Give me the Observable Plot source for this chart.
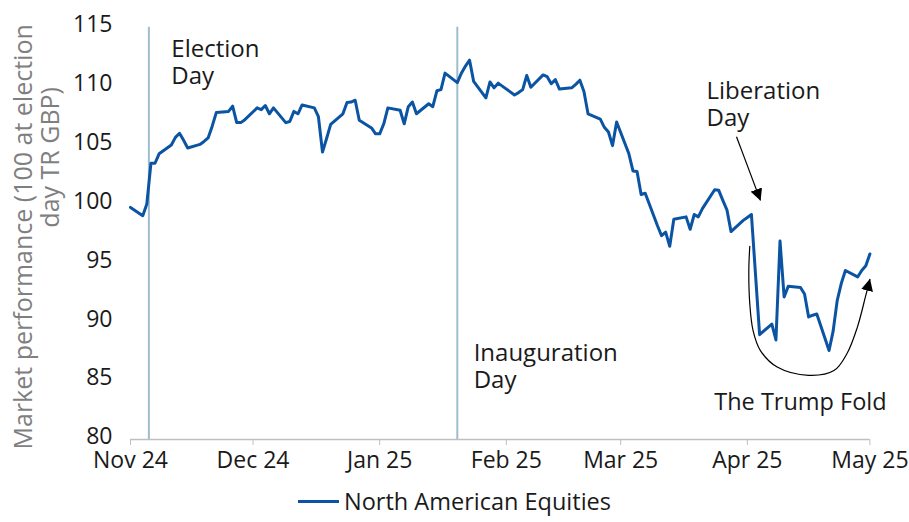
<!DOCTYPE html>
<html>
<head>
<meta charset="utf-8">
<script src="https://cdn.jsdelivr.net/npm/d3@7"></script>
<script src="https://cdn.jsdelivr.net/npm/@observablehq/plot@0.6"></script>
<style>
  html, body { margin: 0; padding: 0; background: #ffffff; }
  #chart { width: 909px; height: 522px; font-family: "Open Sans", sans-serif; }
  .legend { display: flex; justify-content: center; align-items: center; height: 42px; font-size: 23.5px; color: #1a1a1a; font-family: "Open Sans", sans-serif; }
  .legend .sw { width: 41px; height: 3px; background: #0b54a3; margin-right: 5px; }
</style>
</head>
<body>
<div id="chart"></div>
<script>
// ---- Series: North American Equities (100 at election day, TR GBP) ----
const seriesName = "North American Equities";
const dates = [
  "2024-11-01","2024-11-04","2024-11-05","2024-11-06","2024-11-07","2024-11-08",
  "2024-11-11","2024-11-12","2024-11-13","2024-11-14","2024-11-15",
  "2024-11-18","2024-11-19","2024-11-20","2024-11-21","2024-11-22",
  "2024-11-25","2024-11-26","2024-11-27","2024-11-28","2024-11-29",
  "2024-12-02","2024-12-03","2024-12-04","2024-12-05","2024-12-06",
  "2024-12-09","2024-12-10","2024-12-11","2024-12-12","2024-12-13",
  "2024-12-16","2024-12-17","2024-12-18","2024-12-19","2024-12-20",
  "2024-12-23","2024-12-24","2024-12-25","2024-12-26","2024-12-27",
  "2024-12-30","2024-12-31","2025-01-01","2025-01-02","2025-01-03",
  "2025-01-06","2025-01-07","2025-01-08","2025-01-09","2025-01-10",
  "2025-01-13","2025-01-14","2025-01-15","2025-01-16","2025-01-17",
  "2025-01-20","2025-01-21","2025-01-22","2025-01-23","2025-01-24",
  "2025-01-27","2025-01-28","2025-01-29","2025-01-30","2025-01-31",
  "2025-02-03","2025-02-04","2025-02-05","2025-02-06","2025-02-07",
  "2025-02-10","2025-02-11","2025-02-12","2025-02-13","2025-02-14",
  "2025-02-17","2025-02-18","2025-02-19","2025-02-20","2025-02-21",
  "2025-02-24","2025-02-25","2025-02-26","2025-02-27","2025-02-28",
  "2025-03-03","2025-03-04","2025-03-05","2025-03-06","2025-03-07",
  "2025-03-10","2025-03-11","2025-03-12","2025-03-13","2025-03-14",
  "2025-03-17","2025-03-18","2025-03-19","2025-03-20","2025-03-21",
  "2025-03-24","2025-03-25","2025-03-26","2025-03-27","2025-03-28",
  "2025-03-31","2025-04-01","2025-04-02","2025-04-03","2025-04-04",
  "2025-04-07","2025-04-08","2025-04-09","2025-04-10","2025-04-11",
  "2025-04-14","2025-04-15","2025-04-16","2025-04-17","2025-04-18",
  "2025-04-21","2025-04-22","2025-04-23","2025-04-24","2025-04-25",
  "2025-04-28","2025-04-29","2025-04-30","2025-05-01"
];
const values = [
  99.7, 99.0, 100.0, 103.45, 103.45, 104.25,
  105.0, 105.65, 106.0, 105.4, 104.75,
  105.05, 105.3, 105.6, 106.6, 107.75,
  107.85, 108.3, 106.9, 106.9, 107.15,
  108.15, 108.0, 108.35, 107.65, 108.15,
  106.9, 107.0, 107.85, 107.65, 108.4,
  108.15, 107.4, 104.4, 105.55, 106.75,
  107.65, 108.6, 108.65, 108.8, 107.1,
  106.45, 105.95, 105.95, 106.8, 108.15,
  107.95, 106.8, 108.25, 108.65, 107.65,
  108.5, 108.25, 109.6, 109.7, 111.1,
  110.3, 111.1, 111.7, 112.2, 110.4,
  109.0, 110.35, 109.85, 110.25, 110.0,
  109.25, 109.45, 109.7, 110.9, 109.9,
  110.95, 110.8, 110.2, 110.55, 109.75,
  109.85, 110.15, 110.5, 109.55, 107.65,
  107.2, 106.5, 106.1, 104.95, 106.95,
  104.25, 102.8, 102.75, 100.8, 100.9,
  98.15, 97.3, 97.6, 96.4, 98.7,
  98.9, 97.85, 99.1, 98.9, 99.6,
  101.2, 101.15, 100.3, 99.5, 97.65,
  98.6, 98.85, 99.1, 94.0, 88.9,
  89.8, 88.45, 96.85, 92.1, 93.0,
  92.9, 92.35, 90.4, 90.55, 90.65,
  87.55, 89.2, 91.8, 93.25, 94.35,
  93.8, 94.35, 94.75, 95.75
];

// ---- Axes ----
const xDomain = ["2024-11-01", "2025-05-01"];
const xTickDates = ["2024-11-01","2024-12-01","2025-01-01","2025-02-01","2025-03-01","2025-04-01","2025-05-01"];
const xTickLabels = ["Nov 24","Dec 24","Jan 25","Feb 25","Mar 25","Apr 25","May 25"];
const yTicks = [80, 85, 90, 95, 100, 105, 110, 115];
const yTitleLines = ["Market performance (100 at election", "day TR GBP)"];

// ---- Events and annotations ----
const eventDates = ["2024-11-05T12:00Z", "2025-01-20T00:00Z"];
const noteLabels = ["Election\nDay", "Inauguration\nDay", "Liberation\nDay"];
const noteDates = ["2024-11-11T00:00Z", "2025-01-24T00:00Z", "2025-03-22T00:00Z"];
const noteValues = [110.2, 84.4, 106.65];
const foldLabel = ["The Trump Fold"];
const foldLabelDate = ["2025-04-14T00:00Z"];
const foldLabelValue = [82.5];
const libArrowFrom = {date: "2025-03-29T08:24Z", value: 105.7};
const libArrowTo = {date: "2025-04-04T04:48Z", value: 100.3};
const foldCurveDates = ["2025-04-01T14:24Z","2025-04-01T08:38Z","2025-04-01T14:24Z","2025-04-02T09:36Z","2025-04-04T04:48Z","2025-04-08T07:12Z","2025-04-16T00:00Z","2025-04-22T04:48Z","2025-04-25T09:36Z","2025-04-27T21:36Z","2025-04-29T21:36Z","2025-05-01T00:00Z"];
const foldCurveValues = [96.4, 94.35, 91.5, 89.25, 87.55, 86.15, 85.45, 85.85, 87.3, 89.5, 92.1, 93.6];

// ---- Build tables ----
const toDate = s => new Date(s);
const series = dates.map((d, i) => ({date: toDate(d), value: values[i]}));
const xTicks = xTickDates.map(toDate);
const tickLabelByTime = new Map(xTicks.map((d, i) => [+d, xTickLabels[i]]));
const notes = noteLabels.map((t, i) => ({label: t, date: toDate(noteDates[i]), value: noteValues[i]}));
const foldNote = foldLabel.map((t, i) => ({label: t, date: toDate(foldLabelDate[i]), value: foldLabelValue[i]}));
const libArrow = [{x1: toDate(libArrowFrom.date), y1: libArrowFrom.value, x2: toDate(libArrowTo.date), y2: libArrowTo.value}];
const foldCurve = foldCurveDates.map((d, i) => ({date: toDate(d), value: foldCurveValues[i]}));

const lineColor = "#0b54a3";
const font = "Open Sans";

const plot = Plot.plot({
  width: 909,
  height: 480,
  marginTop: 26.7,
  marginBottom: 41,
  marginLeft: 130,
  marginRight: 39.6,
  style: {fontFamily: font, fontSize: "23px", color: "#1a1a1a", background: "#ffffff", overflow: "visible"},
  x: {type: "utc", domain: xDomain.map(toDate)},
  y: {domain: [80, 115]},
  marks: [
    Plot.axisY({ticks: yTicks, tickSize: 0, tickPadding: 18, fontSize: 23, dy: -2.5, label: null, fill: "#1a1a1a"}),
    Plot.axisX({ticks: xTicks, tickFormat: d => tickLabelByTime.get(+d), tickSize: 6, tickPadding: 6, fontSize: 23, label: null, stroke: "#bfbfbf", fill: "#1a1a1a"}),
    Plot.ruleY([80], {stroke: "#bfbfbf", strokeWidth: 1.5}),
    Plot.ruleX(eventDates.map(toDate), {x: d => d, y1: 80, y2: 115, stroke: "#9ebdcd", strokeWidth: 2}),
    Plot.text([yTitleLines[0]], {frameAnchor: "left", textAnchor: "middle", rotate: -90, dx: -107, dy: 3.5, fontSize: 25, fill: "#7f7f7f"}),
    Plot.text([yTitleLines[1]], {frameAnchor: "left", textAnchor: "middle", rotate: -90, dx: -80, dy: -76, fontSize: 25, fill: "#7f7f7f"}),
    Plot.line(series, {x: "date", y: "value", stroke: lineColor, strokeWidth: 3, strokeLinejoin: "round", strokeLinecap: "round"}),
    Plot.text(notes, {x: "date", y: "value", text: "label", textAnchor: "start", lineAnchor: "bottom", lineHeight: 1.1, fontSize: 24, fill: "#1a1a1a"}),
    Plot.text(foldNote, {x: "date", y: "value", text: "label", textAnchor: "middle", lineAnchor: "bottom", fontSize: 23.5, fill: "#1a1a1a"}),
    Plot.link(libArrow, {x1: "x1", y1: "y1", x2: "x2", y2: "y2", stroke: "#000", strokeWidth: 1.2, ariaDescription: "annotation-arrow"}),
    Plot.line(foldCurve, {x: "date", y: "value", curve: "catmull-rom", stroke: "#000", strokeWidth: 1.2, ariaDescription: "annotation-arrow"})
  ]
});

// filled arrowheads on the annotation arrows
const svg = d3.select(plot.tagName.toLowerCase() === "svg" ? plot : plot.querySelector("svg"));
const defs = svg.insert("defs", ":first-child");
defs.append("marker")
  .attr("id", "filled-head")
  .attr("viewBox", "0 0 12 12")
  .attr("refX", 11.5).attr("refY", 6)
  .attr("markerWidth", 12).attr("markerHeight", 12)
  .attr("markerUnits", "userSpaceOnUse")
  .attr("orient", "auto")
  .append("path").attr("d", "M0,0L12,6L0,12Z").attr("fill", "#000");
let arrows = svg.selectAll('g[aria-description="annotation-arrow"] path');
if (arrows.empty()) arrows = svg.selectAll('g[stroke="#000"] path');
arrows.attr("marker-end", "url(#filled-head)");

const chart = document.getElementById("chart");
chart.appendChild(plot);
const legend = document.createElement("div");
legend.className = "legend";
legend.innerHTML = '<span class="sw"></span><span></span>';
legend.lastChild.textContent = seriesName;
chart.appendChild(legend);
</script>
</body>
</html>
